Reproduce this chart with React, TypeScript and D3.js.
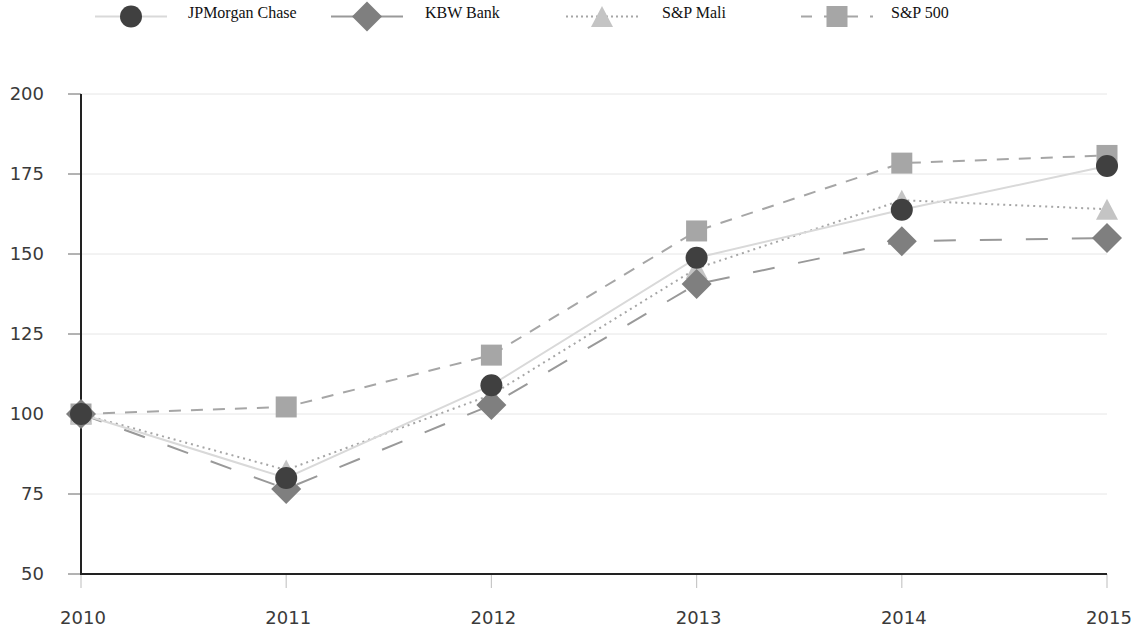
import React from "react";
import * as d3 from "d3";

const years = [2010, 2011, 2012, 2013, 2014, 2015];
const yTicks = [50, 75, 100, 125, 150, 175, 200];
const jpm = [100, 80, 109, 148.8, 163.8, 177.5];
const kbw = [100, 76.6, 102.8, 140.6, 154, 155];
const spMali = [100, 82.5, 106, 145.5, 166.8, 164];
const sp500 = [100, 102.2, 118.4, 157.2, 178.4, 180.8];

type S = { name: string; values: number[]; stroke: string; dash: string; legendDash: string; fill: string; shape: string };
const series: S[] = [
  { name: "S&P 500", values: sp500, stroke: "#a6a6a6", dash: "12,10", legendDash: "11,12", fill: "#a6a6a6", shape: "square" },
  { name: "S&P Mali", values: spMali, stroke: "#a6a6a6", dash: "2,4", legendDash: "2,3", fill: "#c4c4c4", shape: "triangle" },
  { name: "KBW Bank", values: kbw, stroke: "#999999", dash: "22,24", legendDash: "", fill: "#7f7f7f", shape: "diamond" },
  { name: "JPMorgan Chase", values: jpm, stroke: "#d9d9d9", dash: "", legendDash: "", fill: "#404040", shape: "circle" },
];
const legendOrder = ["JPMorgan Chase", "KBW Bank", "S&P Mali", "S&P 500"];
const legendX = [131, 367, 602, 837];
const legendTextX = [188, 425, 662, 891];

function Marker({ shape, x, y, fill }: { shape: string; x: number; y: number; fill: string }) {
  if (shape === "circle") return <circle cx={x} cy={y} r={11} fill={fill} />;
  if (shape === "square") return <rect x={x - 10.5} y={y - 10.5} width={21} height={21} fill={fill} />;
  if (shape === "diamond")
    return <path d={`M${x},${y - 15}L${x + 15},${y}L${x},${y + 15}L${x - 15},${y}Z`} fill={fill} />;
  return <path d={`M${x},${y - 10.5}L${x + 11},${y + 10.5}L${x - 11},${y + 10.5}Z`} fill={fill} />;
}

export default function App() {
  const W = 1145, H = 635;
  const x = d3.scaleLinear().domain([2010, 2015]).range([81, 1107]);
  const y = d3.scaleLinear().domain([50, 200]).range([574, 94]);
  const line = d3.line<number>().x((_, i) => x(years[i])).y((d) => y(d));
  const tickFont = "'DejaVu Sans', Verdana, sans-serif";
  return (
    <svg width={W} height={H} style={{ position: "absolute", left: 0, top: 0, background: "#fff" }}>
      {yTicks.map((t) => (
        <g key={t}>
          {t > 50 && <line x1={81} x2={1107} y1={y(t)} y2={y(t)} stroke="#e6e6e6" strokeWidth={1} />}
          <line x1={68} x2={81} y1={y(t)} y2={y(t)} stroke="#666" strokeWidth={1} />
          <text x={44} y={y(t)} dy="0.36em" textAnchor="end" fontFamily={tickFont} fontSize={18} fill="#3a3a3a">
            {t}
          </text>
        </g>
      ))}
      {years.map((yr) => (
        <g key={yr}>
          <line x1={x(yr)} x2={x(yr)} y1={574} y2={588} stroke="#c8c8c8" strokeWidth={1.2} />
          <text x={x(yr) + 2} y={618} dy="0.36em" textAnchor="middle" fontFamily={tickFont} fontSize={18} fill="#3a3a3a">
            {yr}
          </text>
        </g>
      ))}
      <line x1={81} x2={81} y1={94} y2={575} stroke="#222" strokeWidth={2} />
      <line x1={80} x2={1107} y1={574} y2={574} stroke="#222" strokeWidth={2} />
      {series.map((s) => (
        <path key={s.name} d={line(s.values) || ""} fill="none" stroke={s.stroke} strokeWidth={2} strokeDasharray={s.dash} />
      ))}
      {series.map((s) => (
        <g key={s.name + "m"}>
          {s.values.map((v, i) => (
            <Marker key={i} shape={s.shape} x={x(years[i])} y={y(v)} fill={s.fill} />
          ))}
        </g>
      ))}
      {legendOrder.map((n, i) => {
        const s = series.find((q) => q.name === n)!;
        const cx = legendX[i];
        return (
          <g key={n}>
            <line x1={cx - 36} x2={cx + 36} y1={16.5} y2={16.5} stroke={s.stroke} strokeWidth={2} strokeDasharray={s.legendDash} />
            <Marker shape={s.shape} x={cx} y={16.5} fill={s.fill} />
            <text x={legendTextX[i]} y={17.5} fontFamily="'Liberation Serif', 'Times New Roman', serif" fontSize={16} fill="#111">
              {n}
            </text>
          </g>
        );
      })}
    </svg>
  );
}
